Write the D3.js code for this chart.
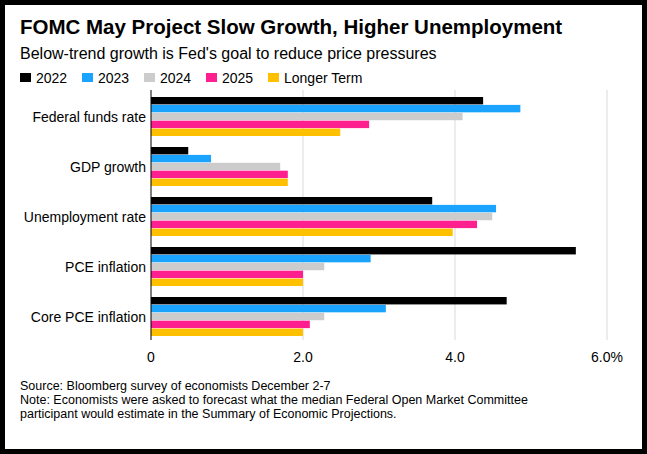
<!DOCTYPE html>
<html>
<head>
<script src="https://d3js.org/d3.v7.min.js"></script>
<style>
  body { margin: 0; background: #fff; }
  svg { font-family: "Helvetica Neue", "Liberation Sans", Arial, sans-serif; }
</style>
</head>
<body>
<svg id="chart" width="647" height="454"></svg>
<script>
const categories = ["Federal funds rate", "GDP growth", "Unemployment rate", "PCE inflation", "Core PCE inflation"];
const series = ["2022", "2023", "2024", "2025", "Longer Term"];
const colors = ["#000000", "#1aa3ff", "#cccccc", "#ff1f8e", "#ffc000"];
const values = [
  [4.37, 4.86, 4.10, 2.87, 2.49],
  [0.49, 0.79, 1.70, 1.80, 1.80],
  [3.70, 4.54, 4.49, 4.29, 3.97],
  [5.59, 2.89, 2.28, 2.00, 2.00],
  [4.68, 3.09, 2.28, 2.09, 2.00]
];
const ticks = [0, 2, 4, 6];
const tickLabels = ["0", "2.0", "4.0", "6.0%"];

const svg = d3.select("#chart");
svg.append("rect").attr("x", 2.5).attr("y", 2.5).attr("width", 642).attr("height", 449)
  .attr("fill", "#fff").attr("stroke", "#000").attr("stroke-width", 5);

svg.append("text").attr("x", 20).attr("y", 34).attr("font-size", 20.5).attr("font-weight", "bold")
  .text("FOMC May Project Slow Growth, Higher Unemployment");
svg.append("text").attr("x", 20).attr("y", 59).attr("font-size", 16)
  .text("Below-trend growth is Fed's goal to reduce price pressures");

// legend
let lx = 20;
const lw = [62, 62, 62, 62, 100];
series.forEach((s, i) => {
  svg.append("rect").attr("x", lx).attr("y", 73).attr("width", 11).attr("height", 9).attr("fill", colors[i]);
  svg.append("text").attr("x", lx + 16).attr("y", 83).attr("font-size", 14).text(s);
  lx += lw[i];
});

const x = d3.scaleLinear().domain([0, 6]).range([151, 607]);
const y = d3.scaleBand().domain(categories).range([97, 336]).paddingInner(0.22).paddingOuter(0);
const ys = d3.scaleBand().domain(series).range([0, y.bandwidth()]).paddingInner(0.06);

svg.selectAll(".grid").data(ticks.slice(1)).join("line")
  .attr("x1", d => x(d)).attr("x2", d => x(d)).attr("y1", 90).attr("y2", 340)
  .attr("stroke", "#d9d9d9").attr("stroke-width", 1);

const g = svg.selectAll(".cat").data(categories).join("g")
  .attr("transform", d => `translate(0,${y(d)})`);
g.selectAll("rect").data((d, i) => values[i].map((v, j) => ({ v, j }))).join("rect")
  .attr("x", x(0)).attr("y", d => ys(series[d.j]))
  .attr("width", d => x(d.v) - x(0)).attr("height", ys.bandwidth())
  .attr("fill", d => colors[d.j]);
g.append("text").attr("x", 146).attr("y", y.bandwidth() / 2 + 5)
  .attr("text-anchor", "end").attr("font-size", 14).text(d => d);

svg.append("line").attr("x1", x(0)).attr("x2", x(0)).attr("y1", 90).attr("y2", 340)
  .attr("stroke", "#000").attr("stroke-width", 1);

svg.selectAll(".tick").data(ticks).join("text")
  .attr("x", d => x(d)).attr("y", 362).attr("font-size", 14)
  .attr("text-anchor", "middle")
  .text((d, i) => tickLabels[i]);

const notes = ["Source: Bloomberg survey of economists December 2-7",
  "Note: Economists were asked to forecast what the median Federal Open Market Committee",
  "participant would estimate in the Summary of Economic Projections."];
notes.forEach((t, i) => svg.append("text").attr("x", 20).attr("y", 390 + i * 14)
  .attr("font-size", 12.5).text(t));
</script>
</body>
</html>
